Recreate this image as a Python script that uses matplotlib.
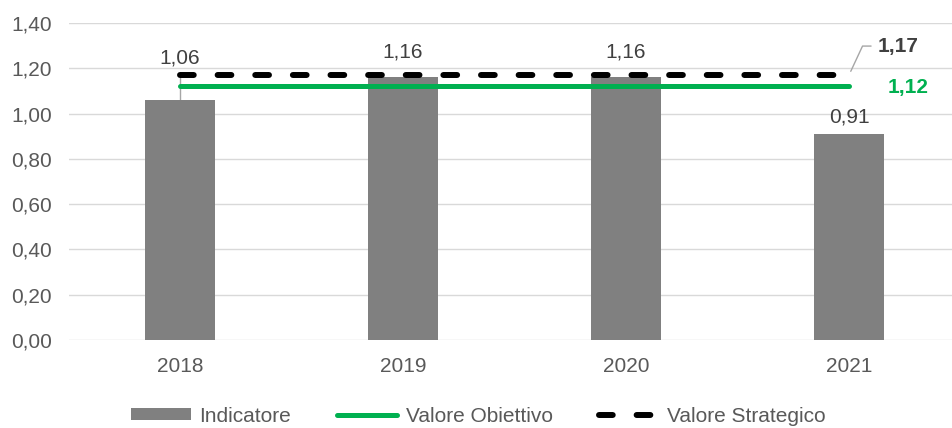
import matplotlib.pyplot as plt
import numpy as np

plt.rcParams['font.family'] = ['Liberation Sans', 'DejaVu Sans']

anni = ['2018', '2019', '2020', '2021']
indicatore = [1.06, 1.16, 1.16, 0.91]
valore_obiettivo = 1.12
valore_strategico = 1.17
yticks = [0.0, 0.2, 0.4, 0.6, 0.8, 1.0, 1.2, 1.4]

grigio = '#808080'
verde = '#00B050'
testo = '#595959'
fs = 15

fig = plt.figure(figsize=(9.52, 4.28), dpi=100)
ax = fig.add_axes([68.5 / 952, 88 / 428, (952 - 68.5) / 952, 317 / 428])

x = np.arange(len(anni))
ax.bar(x, indicatore, width=0.31, color=grigio, label='Indicatore', zorder=2)
ax.plot([x[0], x[-1]], [valore_obiettivo] * 2, color=verde, lw=3.6,
        solid_capstyle='round', label='Valore Obiettivo', zorder=3)
ax.plot([x[0], x[-1] - 0.03], [valore_strategico] * 2, color='black', lw=4.3,
        dashes=(2.3, 4.0), dash_capstyle='round', label='Valore Strategico', zorder=4)

# etichette dati
offsets = [42, 25, 25, 17]
for xi, v, off in zip(x, indicatore, offsets):
    ax.annotate(f'{v:.2f}'.replace('.', ','), (xi, v), xytext=(0, off),
                textcoords='offset pixels', ha='center', va='center',
                fontsize=fs, color='#404040')
# linea guida per 2018
ax.plot([x[0], x[0]], [indicatore[0], valore_strategico], color='#A6A6A6', lw=1, zorder=1)

# etichette valori
ax.annotate(f'{valore_strategico:.2f}'.replace('.', ','), (x[-1], valore_strategico),
            xytext=(29, 29), textcoords='offset pixels', ha='left', va='center',
            fontsize=fs, fontweight='bold', color='#404040',
            arrowprops=dict(arrowstyle='-', color='#A6A6A6', lw=1,
                            connectionstyle='angle,angleA=0,angleB=65,rad=0',
                            shrinkA=3, shrinkB=3))
ax.annotate(f'{valore_obiettivo:.2f}'.replace('.', ','), (x[-1], valore_obiettivo),
            xytext=(39, -1), textcoords='offset pixels', ha='left', va='center',
            fontsize=fs, fontweight='bold', color=verde)

ax.set_xlim(-0.5, -0.5 + (952 - 68.5) / 223)
ax.set_ylim(0, 1.4)
ax.set_xticks(x)
ax.set_xticklabels(anni)
ax.set_yticks(yticks)
ax.set_yticklabels([f'{t:.2f}'.replace('.', ',') for t in yticks])
ax.tick_params(length=0, labelsize=fs, colors=testo)
ax.tick_params(axis='y', pad=12)
ax.tick_params(axis='x', pad=12)
ax.grid(axis='y', color='#D9D9D9', lw=1, zorder=0)
ax.set_axisbelow(True)
for s in ax.spines.values():
    s.set_visible(False)

handles, labels = ax.get_legend_handles_labels()
ordine = [labels.index('Indicatore'), labels.index('Valore Obiettivo'),
          labels.index('Valore Strategico')]
ax.legend([handles[i] for i in ordine], [labels[i] for i in ordine],
          loc='center', bbox_to_anchor=(0.5 - 32 / 883, -76 / 317), ncol=3,
          frameon=False, fontsize=fs, labelcolor=testo, handlelength=2.9,
          handleheight=0.5, columnspacing=2.2, handletextpad=0.4)

fig.savefig('out.png', dpi=100)
